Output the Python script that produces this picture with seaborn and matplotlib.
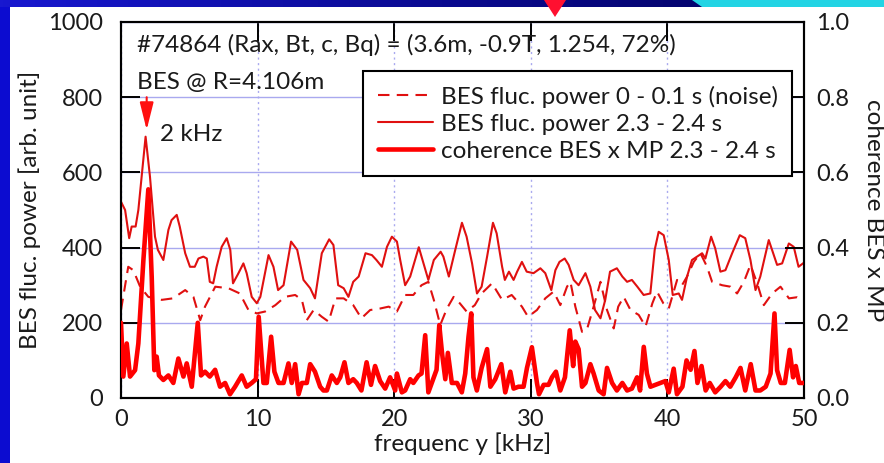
import numpy as np
import pandas as pd
import matplotlib
matplotlib.use("Agg")
import matplotlib.pyplot as plt
import seaborn as sns
from matplotlib.lines import Line2D
from matplotlib.patches import Polygon, Rectangle
from matplotlib.colors import LinearSegmentedColormap

# ---------------- data ----------------
shot_f = [0.0, 0.3, 0.6, 0.78, 1.07, 1.27, 1.8, 2.12, 2.49, 2.7,
          3.1, 3.47, 3.7, 4.08, 4.3, 4.7, 5.05, 5.4, 5.67, 6.03,
          6.28, 6.5, 6.75, 7.0, 7.37, 7.74, 8.0, 8.2, 8.6, 8.96,
          9.2, 9.57, 9.94, 10.2, 10.8, 11.16, 11.5, 11.9, 12.45, 12.9,
          13.36, 13.85, 14.2, 14.7, 15.24, 15.55, 15.9, 16.3, 16.65, 17.0,
          17.4, 17.9, 18.37, 18.7, 19.1, 19.47, 19.83, 20.2, 20.44, 20.8,
          21.17, 21.8, 22.15, 22.5, 22.9, 23.4, 23.6, 24.0, 24.47, 24.96,
          25.3, 25.7, 26.06, 26.4, 26.8, 27.23, 27.5, 27.9, 28.1, 28.4,
          28.74, 29.0, 29.35, 29.7, 30.2, 30.7, 31.06, 31.5, 31.8, 32.1,
          32.48, 32.77, 33.14, 33.5, 34.0, 34.36, 34.7, 35.1, 35.45, 35.8,
          36.3, 36.7, 37.05, 37.4, 37.8, 38.26, 38.75, 39.07, 39.36, 39.73,
          40.1, 40.39, 40.83, 41.07, 41.44, 41.8, 42.17, 42.54, 42.78, 43.2,
          43.5, 43.88, 44.25, 44.74, 45.3, 45.7, 46.08, 46.45, 46.8, 47.42,
          48.03, 48.4, 48.89, 49.25, 49.6, 50.0]
shot_p = [522, 500, 425, 456, 456, 500, 695, 589, 429, 394,
          367, 447, 473, 487, 456, 385, 349, 349, 371, 376,
          371, 309, 305, 349, 402, 425, 394, 305, 332, 358,
          332, 269, 252, 269, 380, 349, 287, 300, 416, 394,
          314, 292, 265, 385, 422, 407, 300, 292, 269, 309,
          323, 385, 380, 367, 349, 402, 429, 416, 367, 300,
          323, 401, 358, 314, 367, 389, 376, 323, 394, 466,
          429, 358, 278, 296, 376, 466, 438, 349, 314, 336,
          314, 336, 362, 336, 332, 345, 332, 287, 340, 362,
          371, 354, 314, 300, 332, 296, 234, 212, 261, 336,
          345, 323, 309, 314, 296, 274, 278, 394, 442, 433,
          367, 274, 278, 261, 323, 367, 376, 385, 371, 429,
          398, 336, 340, 385, 433, 425, 367, 287, 323, 420,
          354, 358, 411, 402, 349, 360]

noise_f = [0.0, 0.53, 0.9, 1.4, 2.0, 2.98, 3.8, 4.7, 5.3, 5.8,
           6.15, 6.9, 7.86, 8.7, 9.33, 9.94, 10.55, 11.3, 12.0, 12.75,
           13.24, 13.6, 14.1, 14.7, 15.2, 15.7, 16.3, 17.0, 17.6, 18.24,
           18.97, 19.6, 20.2, 20.8, 21.4, 22.0, 22.5, 22.9, 23.37, 23.86,
           24.35, 24.8, 25.3, 25.9, 26.4, 27.16, 27.9, 28.6, 29.35, 29.8,
           30.45, 31.06, 31.67, 32.16, 32.65, 32.9, 33.26, 33.75, 34.1, 34.6,
           35.1, 35.58, 36.07, 36.4, 36.8, 37.3, 37.9, 38.4, 38.9, 39.24,
           39.7, 40.1, 40.71, 41.07, 41.44, 41.93, 42.42, 42.9, 43.27, 44.0,
           44.62, 45.1, 45.6, 46.08, 46.57, 47.06, 47.67, 48.28, 48.9, 49.5,
           50.0]
noise_p = [234, 349, 340, 296, 269, 261, 265, 287, 269, 207,
           243, 296, 292, 278, 234, 225, 230, 247, 269, 274,
           261, 207, 234, 216, 203, 265, 265, 247, 212, 234,
           238, 243, 230, 274, 274, 300, 309, 261, 194, 238,
           269, 252, 230, 247, 278, 305, 261, 274, 243, 216,
           234, 265, 283, 247, 296, 309, 243, 176, 181, 243,
           309, 234, 185, 243, 269, 234, 221, 190, 252, 283,
           252, 238, 314, 300, 323, 362, 385, 349, 309, 300,
           296, 278, 309, 354, 305, 247, 278, 296, 265, 268,
           260]

coh_f = [0.0, 0.17, 0.42, 0.66, 1.03, 1.27, 1.64, 2.0, 2.25, 2.44,
         2.61, 2.78, 3.1, 3.47, 3.83, 4.2, 4.57, 4.81, 5.18, 5.62,
         5.86, 6.15, 6.5, 6.89, 7.25, 7.62, 7.98, 8.35, 8.84, 9.2,
         9.57, 9.88, 10.08, 10.43, 10.67, 10.99, 11.23, 11.53, 11.9, 12.26,
         12.5, 12.75, 13.0, 13.24, 13.6, 13.85, 14.2, 14.58, 14.82, 15.07,
         15.43, 15.8, 16.05, 16.36, 16.65, 17.0, 17.26, 17.6, 17.98, 18.3,
         18.6, 18.97, 19.34, 19.7, 20.07, 20.2, 20.56, 20.8, 21.17, 21.4,
         21.78, 22.0, 22.27, 22.5, 22.9, 23.1, 23.3, 23.5, 23.74, 23.93,
         24.22, 24.6, 24.95, 25.2, 25.44, 25.64, 25.8, 26.05, 26.4, 26.8,
         27.04, 27.4, 27.84, 28.13, 28.5, 28.74, 29.1, 29.47, 29.72, 30.08,
         30.45, 30.6, 30.94, 31.3, 31.55, 31.84, 32.16, 32.5, 32.85, 33.1,
         33.26, 33.5, 33.75, 34.0, 34.36, 34.6, 34.97, 35.33, 35.58, 35.95,
         36.3, 36.7, 37.05, 37.4, 37.78, 38.0, 38.27, 38.5, 38.76, 39.13,
         39.5, 39.85, 40.1, 40.46, 40.7, 41.1, 41.4, 41.7, 41.98, 42.2,
         42.5, 42.8, 43.1, 43.5, 43.9, 44.25, 44.6, 45.0, 45.35, 45.7,
         46.1, 46.45, 46.8, 47.2, 47.55, 47.84, 48.03, 48.3, 48.6, 48.95,
         49.2, 49.4, 49.65, 50.0]
coh_v = [0.20, 0.057, 0.145, 0.057, 0.074, 0.145, 0.367, 0.555, 0.32, 0.074,
         0.11, 0.06, 0.048, 0.06, 0.04, 0.105, 0.057, 0.092, 0.03, 0.20,
         0.06, 0.07, 0.057, 0.075, 0.03, 0.04, 0.01, 0.03, 0.06, 0.03,
         0.04, 0.05, 0.216, 0.04, 0.04, 0.163, 0.07, 0.04, 0.04, 0.092,
         0.04, 0.09, 0.01, 0.04, 0.04, 0.09, 0.07, 0.03, 0.02, 0.02,
         0.06, 0.04, 0.055, 0.095, 0.04, 0.05, 0.04, 0.02, 0.095, 0.035,
         0.085, 0.045, 0.025, 0.055, 0.02, 0.065, 0.015, 0.02, 0.05, 0.04,
         0.06, 0.065, 0.167, 0.015, 0.055, 0.075, 0.194, 0.12, 0.05, 0.12,
         0.04, 0.04, 0.015, 0.065, 0.163, 0.225, 0.055, 0.02, 0.08, 0.13,
         0.03, 0.05, 0.09, 0.015, 0.07, 0.025, 0.03, 0.03, 0.08, 0.135,
         0.04, 0.01, 0.035, 0.035, 0.055, 0.07, 0.02, 0.055, 0.18, 0.085,
         0.15, 0.13, 0.03, 0.04, 0.09, 0.065, 0.02, 0.01, 0.08, 0.04,
         0.02, 0.04, 0.02, 0.025, 0.055, 0.02, 0.136, 0.065, 0.03, 0.035,
         0.04, 0.045, 0.015, 0.078, 0.01, 0.03, 0.1, 0.075, 0.125, 0.04,
         0.085, 0.02, 0.04, 0.015, 0.03, 0.045, 0.03, 0.055, 0.08, 0.02,
         0.09, 0.02, 0.02, 0.03, 0.065, 0.225, 0.074, 0.04, 0.04, 0.128,
         0.055, 0.085, 0.04, 0.04]

x_ticks = [0, 10, 20, 30, 40, 50]
y_ticks = [0, 200, 400, 600, 800, 1000]
y2_ticks = [0.0, 0.2, 0.4, 0.6, 0.8, 1.0]
legend_labels = ["BES fluc. power 0 - 0.1 s (noise)",
                 "BES fluc. power 2.3 - 2.4 s",
                 "coherence BES x MP 2.3 - 2.4 s"]

# ---------------- style ----------------
sns.set_theme(style="white")
plt.rcParams["font.family"] = ["Lato", "DejaVu Sans"]
FS = 17.5
FS_TICK = 17
TXT = "#1a1a1a"
RED_THIN = "#e01010"
RED_THICK = "#ff0000"
LW_THIN = 1.5
LW_THICK = 3.3
DASH = (0, (5.5, 3.5))

W, H = 884, 463
fig = plt.figure(figsize=(W / 100, H / 100), dpi=100)
fig.patch.set_facecolor("white")

ax = fig.add_axes([121 / W, 1 - 398 / H, 683 / W, 376 / H])
ax.set_facecolor("white")
ax2 = ax.twinx()

noise_df = pd.DataFrame({"f": noise_f, "p": noise_p})
shot_df = pd.DataFrame({"f": shot_f, "p": shot_p})
coh_df = pd.DataFrame({"f": coh_f, "c": coh_v})

sns.lineplot(data=noise_df, x="f", y="p", ax=ax, color=RED_THIN, lw=LW_THIN,
             linestyle=DASH, legend=False, zorder=3)
sns.lineplot(data=shot_df, x="f", y="p", ax=ax, color=RED_THIN, lw=LW_THIN,
             legend=False, zorder=3)
sns.lineplot(data=coh_df, x="f", y="c", ax=ax2, color=RED_THICK, lw=LW_THICK,
             legend=False, zorder=3)

ax.set_xlim(0, 50)
ax.set_ylim(0, 1000)
ax2.set_ylim(0, 1)
ax.set_xticks(x_ticks)
ax.set_yticks(y_ticks)
ax2.set_yticks(y2_ticks)
ax2.set_yticklabels([f"{v:.1f}" for v in y2_ticks])

# grid
ax.set_axisbelow(True)
ax.yaxis.grid(True, color="#a9a9ef", lw=1.0, ls="-")
ax.xaxis.grid(True, color="#a9a9ef", lw=1.0, ls=(0, (1.5, 2.5)))

for a in (ax, ax2):
    for s in a.spines.values():
        s.set_color("black")
        s.set_linewidth(1.5)

ax.tick_params(axis="x", direction="in", length=14, width=1.4, color="black",
               top=True, bottom=True, labelsize=FS_TICK, labelcolor=TXT, pad=8)
ax.tick_params(axis="y", direction="in", length=14, width=1.4, color="black",
               left=True, right=False, labelsize=FS_TICK, labelcolor=TXT, pad=13)
ax2.tick_params(axis="y", direction="in", length=14, width=1.4, color="black",
                right=True, labelsize=FS_TICK, labelcolor=TXT, pad=9)

ax.set_xlabel("frequenc y [kHz]", fontsize=FS, color=TXT)
ax.xaxis.set_label_coords(0.5, -0.092)
ax.set_ylabel("BES fluc. power [arb. unit]", fontsize=FS, color=TXT)
ax.yaxis.set_label_coords(-0.117, 0.5)
ax2.set_ylabel("coherence BES x MP", fontsize=FS, color=TXT,
               rotation=270, va="bottom")
ax2.yaxis.set_label_coords(1.086, 0.5)

# annotations
ax.text(1.17, 938, "#74864 (Rax, Bt, c, Bq) = (3.6m, -0.9T, 1.254, 72%)",
        fontsize=FS, color=TXT, ha="left", va="center")
ax.text(1.17, 840, "BES @ R=4.106m", fontsize=FS, color=TXT,
        ha="left", va="center")
ax.text(2.85, 700, "2 kHz", fontsize=FS, color=TXT, ha="left", va="center")
ax.annotate("", xy=(1.88, 713), xytext=(1.88, 800),
            arrowprops=dict(arrowstyle="-|>,head_length=1.4,head_width=0.35",
                            color="#ff1010", lw=1.5, shrinkA=0, shrinkB=0))

# legend
handles = [Line2D([], [], color=RED_THIN, lw=LW_THIN, linestyle=DASH),
           Line2D([], [], color=RED_THIN, lw=LW_THIN),
           Line2D([], [], color=RED_THICK, lw=LW_THICK)]
leg = ax2.legend(handles, legend_labels, loc="upper left",
                 bbox_to_anchor=(363 / W, 1 - 71 / H),
                 bbox_transform=fig.transFigure, frameon=True, fancybox=False,
                 edgecolor="black", facecolor="white", framealpha=1,
                 fontsize=FS, handlelength=2.3, handletextpad=0.3,
                 borderpad=0.6, labelspacing=0.25, borderaxespad=0)
leg.get_frame().set_linewidth(1.5)
for t in leg.get_texts():
    t.set_color(TXT)

# slide decorations
fig.add_artist(Rectangle((0, 0), 10 / W, 1, transform=fig.transFigure,
                         facecolor="#0c0cd0", edgecolor="none", zorder=10))
band = fig.add_axes([0, 1 - 7 / H, 1, 7 / H], zorder=11)
grad = np.linspace(0, 1, 256)[None, :]
cmap = LinearSegmentedColormap.from_list("b", ["#1818d0", "#0a0a90", "#000058"])
band.imshow(grad, aspect="auto", cmap=cmap, extent=(0, W, 0, 7))
band.add_patch(Polygon([(692, 7), (W, 7), (W, 0), (702, 0)], closed=True,
                       facecolor="#22d4e4", edgecolor="none"))
band.set_xlim(0, W)
band.set_ylim(0, 7)
band.axis("off")
fig.add_artist(Polygon([(544 / W, 1), (566 / W, 1), (555 / W, 1 - 17 / H)],
                       closed=True, transform=fig.transFigure,
                       facecolor="#ff1030", edgecolor="none", zorder=12))

fig.savefig("out.png", dpi=100)
